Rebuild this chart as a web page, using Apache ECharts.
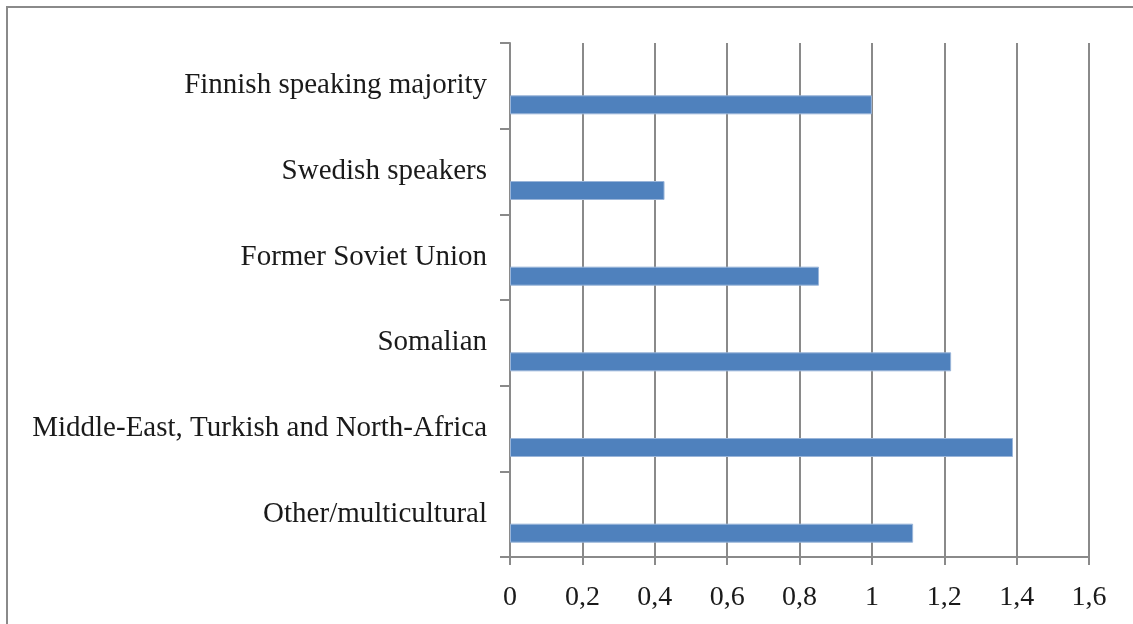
<!DOCTYPE html>
<html>
<head>
<meta charset="utf-8">
<script src="https://cdn.jsdelivr.net/npm/echarts@6/dist/echarts.min.js"></script>
<style>
    html, body { margin: 0; padding: 0; background: #fff; }
    #frame {
        position: absolute; left: 6px; top: 6px; width: 1200px; height: 700px;
        border-left: 2px solid #8a8a8a; border-top: 2px solid #8a8a8a;
    }
    #chart { position: absolute; left: 0; top: 0; width: 1133px; height: 624px; }
</style>
</head>
<body>
<div id="frame"></div>
<div id="chart"></div>
<script>
var categories = ['Finnish speaking majority', 'Swedish speakers', 'Former Soviet Union', 'Somalian',
    'Middle-East, Turkish and North-Africa', 'Other/multicultural'];
var values = [1.0, 0.427, 0.854, 1.219, 1.39, 1.114];
var emptySeries = [];   // Excel placeholder series, pushes the bar below the band centre
var xMin = 0, xMax = 1.6, xStep = 0.2;

var chart = echarts.init(document.getElementById('chart'));
var labelFont = 'Liberation Serif';
var option = {
    animation: false,
    grid: {
        left: 510,
        right: 44,
        top: 43,
        bottom: 67,
        containLabel: false
    },
    xAxis: {
        type: 'value',
        min: xMin,
        max: xMax,
        interval: xStep,
        axisLine: { show: true, lineStyle: { color: '#8a8a8a', width: 2 } },
        axisTick: { show: true, inside: false, length: 8, lineStyle: { color: '#8a8a8a', width: 2 } },
        axisLabel: {
            color: '#1a1a1a',
            fontFamily: labelFont,
            fontSize: 28,
            margin: 27,
            formatter: function (v) {
                return String(+v.toFixed(1)).replace('.', ',');
            }
        },
        splitLine: { show: true, lineStyle: { color: '#8a8a8a', width: 2 } }
    },
    yAxis: {
        type: 'category',
        inverse: true,
        data: categories,
        axisLine: { show: true, lineStyle: { color: '#8a8a8a', width: 2 } },
        axisTick: { show: true, inside: false, length: 10, lineStyle: { color: '#8a8a8a', width: 2 } },
        axisLabel: {
            color: '#1a1a1a',
            fontFamily: labelFont,
            fontSize: 29,
            margin: 23
        },
        splitLine: { show: false }
    },
    series: [
        {
            type: 'bar',
            name: 'empty',
            data: emptySeries,
            barWidth: 19,
            barGap: '100%'
        },
        {
            type: 'bar',
            name: 'value',
            data: values,
            barWidth: 19,
            barGap: '100%',
            itemStyle: { color: '#4f81bd', borderColor: '#9ab5d9', borderWidth: 1 }
        }
    ]
};
chart.setOption(option);
window.addEventListener('resize', function () {
    chart.resize();
});
</script>
</body>
</html>
